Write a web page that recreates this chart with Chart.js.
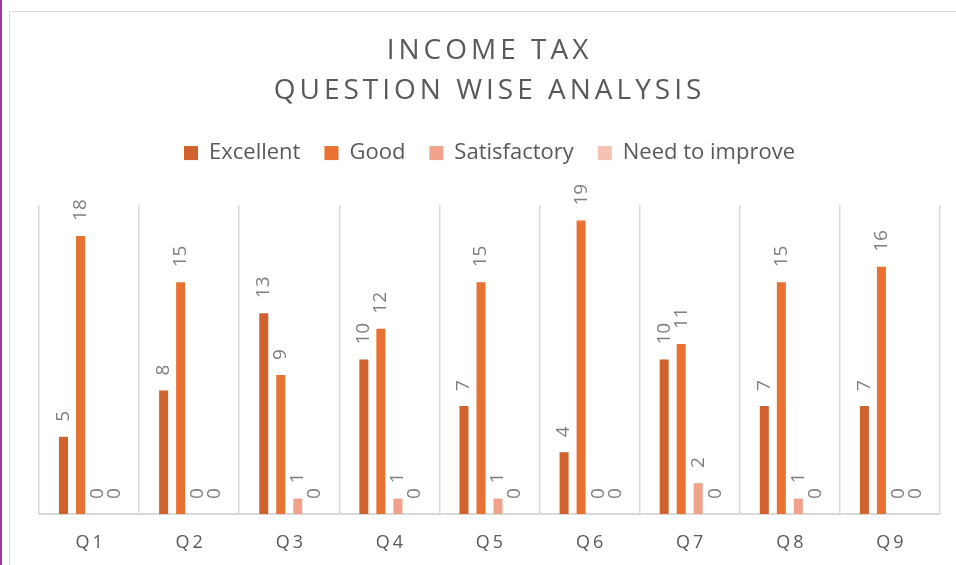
<!DOCTYPE html>
<html>
<head>
<meta charset="utf-8">
<script src="https://cdn.jsdelivr.net/npm/chart.js@4"></script>
<style>
  html, body { margin: 0; padding: 0; width: 956px; height: 565px; overflow: hidden; background: #ffffff; position: relative; }
  #purple { position: absolute; left: 0; top: 0; width: 2px; height: 565px; background: #9E3A9E; }
  #frame { position: absolute; left: 9px; top: 11px; width: 980px; height: 600px; border: 1.5px solid #d9d9d9; box-sizing: border-box; }
  #c { position: absolute; left: 10px; top: 12px; }
</style>
</head>
<body>
<div id="purple"></div>
<div id="frame"></div>
<canvas id="c" width="962" height="553"></canvas>
<script>
const titleLines = ['INCOME TAX', 'QUESTION WISE ANALYSIS'];
const categories = ['Q1', 'Q2', 'Q3', 'Q4', 'Q5', 'Q6', 'Q7', 'Q8', 'Q9'];
const seriesNames = ['Excellent', 'Good', 'Satisfactory', 'Need to improve'];
const excellent = [5, 8, 13, 10, 7, 4, 10, 7, 7];
const good = [18, 15, 9, 12, 15, 19, 11, 15, 16];
const satisfactory = [0, 0, 1, 1, 1, 0, 2, 1, 0];
const needToImprove = [0, 0, 0, 0, 0, 0, 0, 0, 0];
const seriesColors = ['#D0622D', '#E97132', '#F0A28A', '#F4C1B3'];

const FONT = "'Open Sans', 'Liberation Sans', sans-serif";

const spacingPlugin = {
  id: 'spacing',
  beforeLayout(chart) {
    const lg = chart.legend;
    if (lg && !lg._wrapped) {
      const f = lg.fit;
      lg.fit = function () { f.call(this); this.height = 87; };
      lg._wrapped = true;
    }
  },
  afterUpdate(chart) {
    const tb = chart.titleBlock;
    if (tb && !tb._wrapped) {
      const d = tb.draw;
      tb.draw = function () { const ctx = this.ctx; ctx.save(); ctx.letterSpacing = '4px'; d.apply(this, arguments); ctx.restore(); };
      tb._wrapped = true;
    }
    const xs = chart.scales.x;
    if (xs && !xs._wrapped) {
      const dl = xs.drawLabels;
      xs.drawLabels = function () { const ctx = this.ctx; ctx.save(); ctx.letterSpacing = '3px'; ctx.translate(1.5, 0); dl.apply(this, arguments); ctx.restore(); };
      xs._wrapped = true;
    }
  }
};

const valueLabels = {
  id: 'valueLabels',
  afterDatasetsDraw(chart) {
    const ctx = chart.ctx;
    ctx.save();
    ctx.font = '19px ' + FONT;
    ctx.fillStyle = '#7f7f7f';
    ctx.textAlign = 'left';
    ctx.textBaseline = 'middle';
    chart.data.datasets.forEach((ds, i) => {
      const meta = chart.getDatasetMeta(i);
      meta.data.forEach((bar, j) => {
        ctx.save();
        ctx.translate(bar.x, bar.y - 15);
        ctx.rotate(-Math.PI / 2);
        ctx.fillText(String(ds.data[j]), 0, 0);
        ctx.restore();
      });
    });
    ctx.restore();
  }
};

const seriesData = [excellent, good, satisfactory, needToImprove];

new Chart(document.getElementById('c'), {
  type: 'bar',
  data: {
    labels: categories,
    datasets: seriesNames.map((name, i) => ({
      label: name,
      data: seriesData[i],
      backgroundColor: seriesColors[i],
      borderWidth: 0,
      barPercentage: 0.53,
      categoryPercentage: 0.68
    }))
  },
  options: {
    responsive: false,
    animation: false,
    layout: { padding: { left: 29, right: 32, top: 0, bottom: 0 } },
    plugins: {
      title: {
        display: true,
        text: titleLines,
        color: '#595959',
        font: { family: FONT, size: 28, weight: 'normal', lineHeight: 1.43 },
        padding: { top: 19, bottom: 7 }
      },
      legend: {
        display: true,
        position: 'top',
        labels: {
          color: '#595959',
          font: { family: FONT, size: 22 },
          boxWidth: 14,
          boxHeight: 14,
          padding: 24
        }
      },
      tooltip: { enabled: false }
    },
    scales: {
      x: {
        grid: { display: true, offset: true, color: '#d9d9d9', lineWidth: 1.5, drawTicks: false },
        border: { display: true, color: '#d9d9d9', width: 2 },
        ticks: { color: '#595959', font: { family: FONT, size: 18 }, padding: 18 },
        afterFit(scale) { scale.height = 51; }
      },
      y: {
        display: false,
        min: 0,
        max: 20
      }
    }
  },
  plugins: [spacingPlugin, valueLabels]
});
</script>
</body>
</html>
